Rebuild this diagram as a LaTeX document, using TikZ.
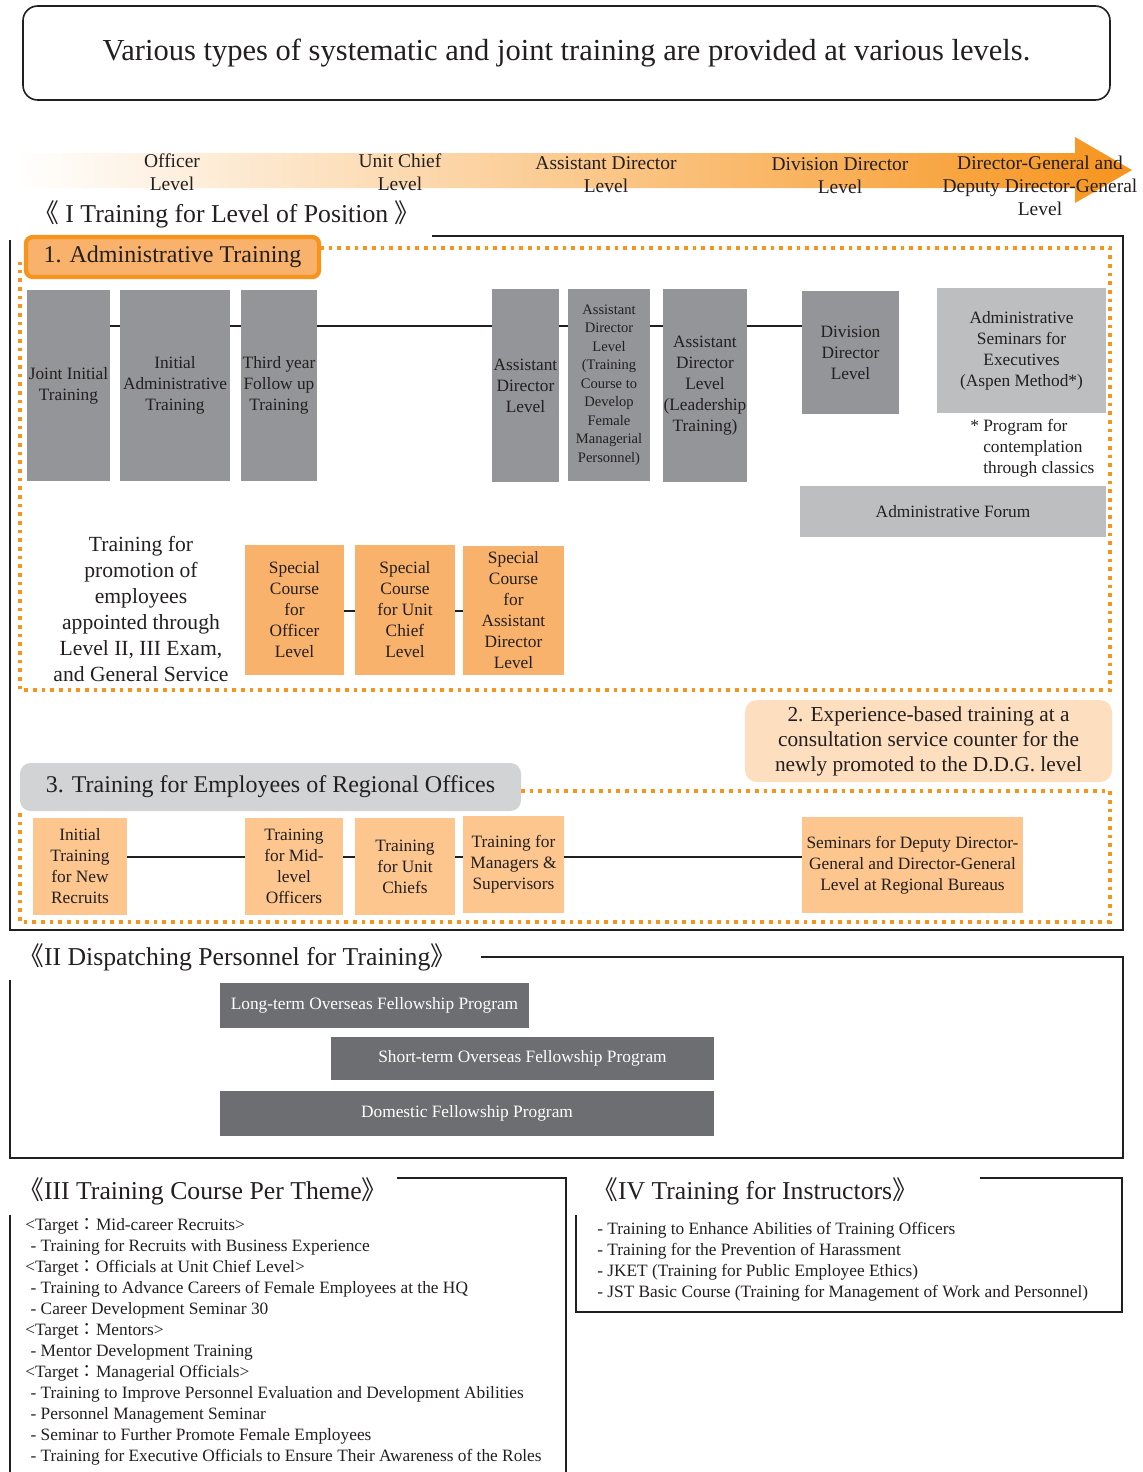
\documentclass[tikz,border=0pt]{standalone}
\usepackage{fontspec}
\setmainfont{Liberation Serif}
\newfontfamily\cjk{Noto Sans CJK JP}
\definecolor{ora}{HTML}{F7941D}
\definecolor{orafill}{HTML}{F9B26B}
\definecolor{oralight}{HTML}{FCC68E}
\definecolor{peach}{HTML}{FDDFC0}
\definecolor{gmid}{HTML}{939598}
\definecolor{glight}{HTML}{BCBEC0}
\definecolor{gpale}{HTML}{D1D3D4}
\definecolor{gdark}{HTML}{6D6E71}
\definecolor{txt}{HTML}{231F20}
\newcommand\fbody{\fontsize{13pt}{15.75pt}\selectfont}
\newcommand\fsmall{\fontsize{10.9pt}{13.9pt}\selectfont}
\newcommand\flevel{\fontsize{14.6pt}{17.25pt}\selectfont}
\newcommand\flabel{\fontsize{18pt}{21pt}\selectfont}
\newcommand\fhead{\fontsize{19.3pt}{23pt}\selectfont}
\newcommand\ftitle{\fontsize{22.9pt}{26pt}\selectfont}
\newcommand\fmid{\fontsize{16.2pt}{19.5pt}\selectfont}
\newcommand\fexp{\fontsize{16pt}{18.75pt}\selectfont}
\newcommand\bx[7]{\node[#1, minimum width={(#4-#2)*0.75pt}, minimum height={(#5-#3)*0.75pt}] (#6) at ({(#2+#4)/2},{(#3+#5)/2}) {#7};}
\newcommand\tg{{\cjk ：}}
\begin{document}
\begin{tikzpicture}[x=0.75pt,y=-0.75pt,
  every node/.style={text=txt},
  gbox/.style={fill=gmid, inner sep=0pt, align=center, font=\fbody},
  lgbox/.style={fill=glight, inner sep=0pt, align=center, font=\fbody},
  obox/.style={fill=orafill, inner sep=0pt, align=center, font=\fbody},
  rbox/.style={fill=oralight, inner sep=0pt, align=center, font=\fbody},
  dbox/.style={fill=gdark, inner sep=0pt, align=center, font=\fbody, text=white},
  conn/.style={line width=1.4pt, txt},
  frame/.style={line width=1.6pt, txt},
  dotfr/.style={line width=2.7pt, ora, dash pattern=on 2.7pt off 3.8pt},
  lvl/.style={align=center, font=\flevel, inner sep=0pt},
  head/.style={anchor=west, font=\fhead, inner sep=0pt}]
\useasboundingbox (0,0) rectangle (1143,1472);

% title
\bx{draw=txt, line width=1.2pt, rounded corners=11pt, inner sep=0pt, font=\ftitle}{23}{6}{1110}{100}{title}{Various types of systematic and joint training are provided at various levels.}

% level axis arrow
\shade[left color=white, right color=ora] (15,153) -- (1075,153) -- (1075,137) -- (1132,170) -- (1075,203) -- (1075,188) -- (15,188) -- cycle;
\node[lvl] (lv1) at (172,172.5) {Officer\\Level};
\node[lvl] (lv2) at (400,172.5) {Unit Chief\\Level};
\node[lvl] (lv3) at (606,174.5) {Assistant Director\\Level};
\node[lvl] (lv4) at (840,175.5) {Division Director\\Level};
\node[lvl] (lv5) at (1040,186) {Director-General and\\Deputy Director-General\\Level};

% Section I
\node[head] (h1) at (33,214) {{\cjk 《} I Training for Level of Position {\cjk 》}};
\draw[frame] (432,236) -- (1123,236) -- (1123,930) -- (10,930) -- (10,240);
\draw[dotfr] (320,248) -- (1110,248) -- (1110,690) -- (20,690) -- (20,262);
\bx{fill=orafill, draw=ora, line width=3.2pt, rounded corners=5pt, inner sep=0pt, font=\flabel}{26}{237}{319}{277}{lab1}{1. Administrative Training}

\bx{gbox}{27}{290}{110}{481}{jit}{Joint Initial\\Training}
\bx{gbox}{120}{290}{230}{481}{iat}{Initial\\Administrative\\Training}
\bx{gbox}{241}{290}{317}{481}{tyf}{Third year\\Follow up\\Training}
\bx{gbox}{492}{289}{559}{482}{adl}{Assistant\\Director\\Level}
\bx{gbox, font=\fsmall}{568}{289}{650}{481}{adf}{Assistant\\Director\\Level\\(Training\\Course to\\Develop\\Female\\Managerial\\Personnel)}
\bx{gbox}{663}{289}{747}{482}{adt}{Assistant\\Director\\Level\\(Leadership\\Training)}
\bx{gbox}{802}{291}{899}{414}{ddl}{Division\\Director\\Level}
\bx{lgbox}{937}{288}{1106}{413}{asp}{Administrative\\Seminars for\\Executives\\(Aspen Method*)}
\node[anchor=north west, align=left, font=\fbody, inner sep=0pt] (note) at (970,419) {* Program for\\\phantom{* }contemplation\\\phantom{* }through classics};
\bx{lgbox}{800}{486}{1106}{537}{forum}{Administrative Forum}

\coordinate (L1) at (0,326);
\draw[conn] (jit.east|-L1) -- (iat.west|-L1);
\draw[conn] (iat.east|-L1) -- (tyf.west|-L1);
\draw[conn] (tyf.east|-L1) -- (adl.west|-L1);
\draw[conn] (adl.east|-L1) -- (adf.west|-L1);
\draw[conn] (adf.east|-L1) -- (adt.west|-L1);
\draw[conn] (adt.east|-L1) -- (ddl.west|-L1);

\node[align=center, font=\fmid, inner sep=0pt] (promo) at (141,609) {Training for\\promotion of\\employees\\appointed through\\Level II, III Exam,\\and General Service};
\bx{obox}{245}{545}{344}{675}{sco}{Special\\Course\\for\\Officer\\Level}
\bx{obox}{355}{545}{455}{675}{scu}{Special\\Course\\for Unit\\Chief\\Level}
\bx{obox}{463}{546}{564}{675}{sca}{Special\\Course\\for\\Assistant\\Director\\Level}
\coordinate (L2) at (0,611);
\draw[conn] (sco.east|-L2) -- (scu.west|-L2);
\draw[conn] (scu.east|-L2) -- (sca.west|-L2);

% box 2
\bx{fill=peach, rounded corners=9pt, inner sep=0pt, align=center, font=\fexp}{745}{700}{1112}{782}{exp}{2. Experience-based training at a\\consultation service counter for the\\newly promoted to the D.D.G. level}

% box 3
\draw[dotfr] (521,791) -- (1110,791) -- (1110,922) -- (20,922) -- (20,811);
\bx{fill=gpale, rounded corners=8pt, inner sep=0pt, font=\flabel}{20}{763}{521}{811}{lab3}{3. Training for Employees of Regional Offices}
\bx{rbox}{33}{818}{127}{915}{r1}{Initial\\Training\\for New\\Recruits}
\bx{rbox}{245}{818}{343}{915}{r2}{Training\\for Mid-\\level\\Officers}
\bx{rbox}{355}{818}{455}{915}{r3}{Training\\for Unit\\Chiefs}
\bx{rbox}{463}{816}{564}{913}{r4}{Training for\\Managers \&\\Supervisors}
\bx{rbox}{802}{817}{1023}{913}{r5}{Seminars for Deputy Director-\\General and Director-General\\Level at Regional Bureaus}
\coordinate (L3) at (0,857);
\draw[conn] (r1.east|-L3) -- (r2.west|-L3);
\draw[conn] (r2.east|-L3) -- (r3.west|-L3);
\draw[conn] (r3.east|-L3) -- (r4.west|-L3);
\draw[conn] (r4.east|-L3) -- (r5.west|-L3);

% Section II
\node[head] (h2) at (18,957) {{\cjk 《}II Dispatching Personnel for Training{\cjk 》}};
\draw[frame] (481,957) -- (1123,957) -- (1123,1158) -- (10,1158) -- (10,980);
\bx{dbox}{220}{983}{529}{1028}{long}{Long-term Overseas Fellowship Program}
\bx{dbox}{331}{1037}{714}{1080}{short}{Short-term Overseas Fellowship Program}
\bx{dbox}{220}{1091}{714}{1136}{dom}{Domestic Fellowship Program}

% Section III
\node[head] (h3) at (18,1191) {{\cjk 《}III Training Course Per Theme{\cjk 》}};
\draw[frame] (397,1178) -- (566,1178) -- (566,1472);
\draw[frame] (10,1215) -- (10,1472);
\node[anchor=north west, align=left, font=\fbody, inner sep=0pt] (list3) at (25,1218) {%
<Target\tg Mid-career Recruits>\\
\hspace*{4pt}- Training for Recruits with Business Experience\\
<Target\tg Officials at Unit Chief Level>\\
\hspace*{4pt}- Training to Advance Careers of Female Employees at the HQ\\
\hspace*{4pt}- Career Development Seminar 30\\
<Target\tg Mentors>\\
\hspace*{4pt}- Mentor Development Training\\
<Target\tg Managerial Officials>\\
\hspace*{4pt}- Training to Improve Personnel Evaluation and Development Abilities\\
\hspace*{4pt}- Personnel Management Seminar\\
\hspace*{4pt}- Seminar to Further Promote Female Employees\\
\hspace*{4pt}- Training for Executive Officials to Ensure Their Awareness of the Roles};

% Section IV
\node[head] (h4) at (592,1191) {{\cjk 《}IV Training for Instructors{\cjk 》}};
\draw[frame] (980,1178) -- (1122,1178) -- (1122,1312) -- (576,1312) -- (576,1215);
\node[anchor=north west, align=left, font=\fbody, inner sep=0pt] (list4) at (597,1222) {%
- Training to Enhance Abilities of Training Officers\\
- Training for the Prevention of Harassment\\
- JKET (Training for Public Employee Ethics)\\
- JST Basic Course (Training for Management of Work and Personnel)};
\end{tikzpicture}
\end{document}
